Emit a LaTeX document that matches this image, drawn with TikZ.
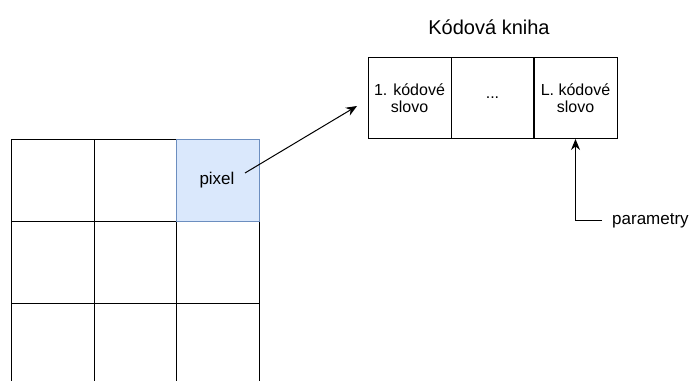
\documentclass[tikz,border=0pt]{standalone}
\usepackage{fontspec}
\setmainfont{Liberation Sans}
\usetikzlibrary{arrows.meta}
\definecolor{pixfill}{HTML}{DAE8FC}
\definecolor{pixdraw}{HTML}{6C8EBF}
\tikzset{
  cell/.style={draw=black, line width=1pt, minimum width=82.5pt, minimum height=82pt, inner sep=0pt, anchor=north west},
  pixcell/.style={cell, fill=pixfill, draw=pixdraw},
  word/.style={draw=black, line width=1pt, minimum width=83pt, minimum height=81pt, inner sep=0pt, align=center, font=\fontsize{16}{17.5}\selectfont},
  label17/.style={inner sep=0pt, font=\fontsize{17}{20}\selectfont},
  link/.style={line width=1pt, -{Stealth[length=11pt,width=9pt]}},
}
\begin{document}
\begin{tikzpicture}[x=1pt, y=-1pt]
  \useasboundingbox (0,0) rectangle (693,380);
  \clip (0,0) rectangle (693,380);
  % image grid
  \foreach \r/\yy in {1/139, 2/221, 3/303}{
    \foreach \c/\xx in {1/11, 2/93.5}{
      \node[cell] (g\r\c) at (\xx,\yy) {};
    }
  }
  \node[cell] (g23) at (176,221) {};
  \node[cell] (g33) at (176,303) {};
  \node[pixcell] (g13) at (176,139) {};
  \node[label17, anchor=base] (pixel) at (217,184) {pixel};
  % codebook
  \node[inner sep=0pt, anchor=base, font=\fontsize{20}{24}\selectfont] (title) at (489,34) {Kódová kniha};
  \node[word] (w1) at (409.5,98) {1. kódové\\slovo};
  \node[word] (w2) at (492.5,98) {...};
  \node[word] (w3) at (575.5,98) {L. kódové\\slovo};
  \draw[line width=2pt] (w3.north west) -- (w3.south west);
  % connectors
  \coordinate (pxout) at (245,173);
  \coordinate (cbin) at (357,106);
  \draw[link] (pxout) -- (cbin);
  \node[label17, anchor=west] (param) at (612,221) {parametry};
  \coordinate (pin) at (602,220);
  \draw[link] (pin) -| (w3.south);
\end{tikzpicture}
\end{document}
